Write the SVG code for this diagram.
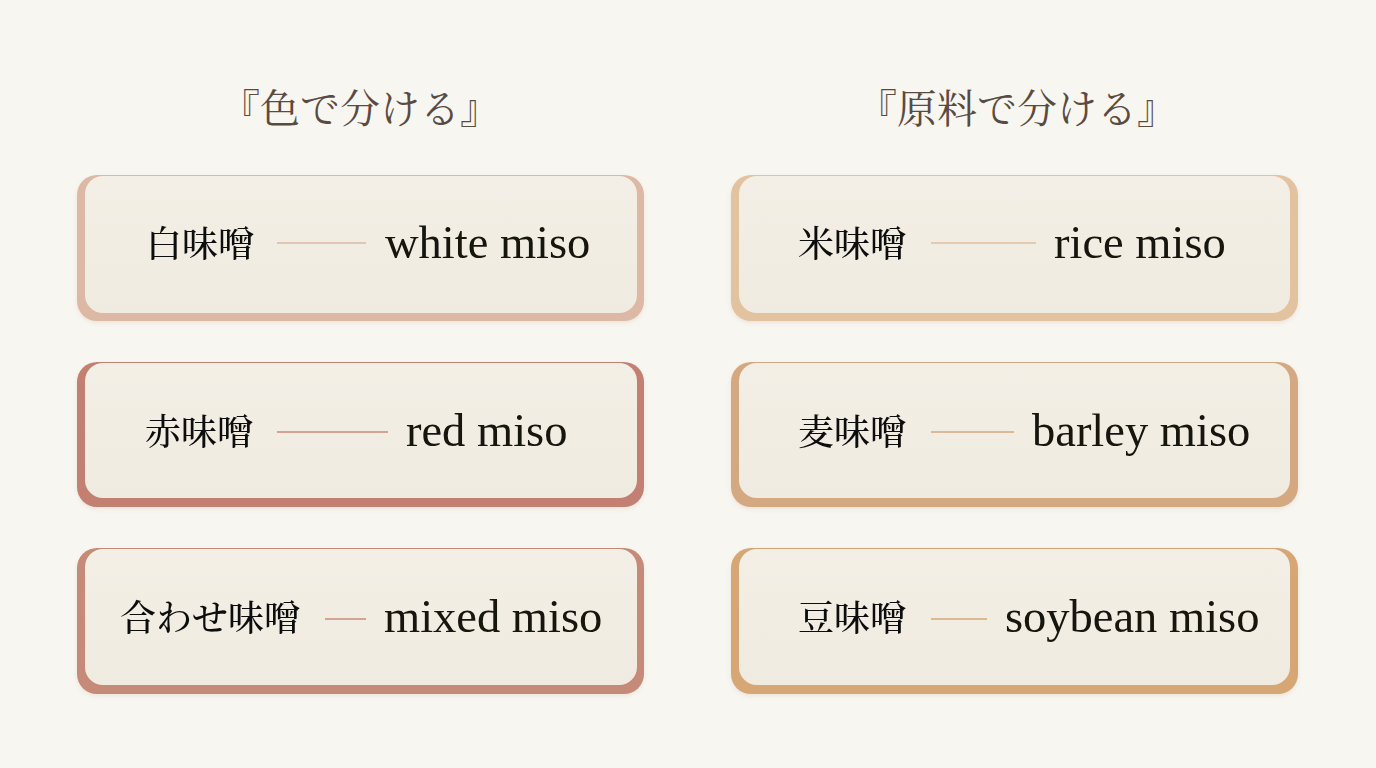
<svg xmlns="http://www.w3.org/2000/svg" width="1376" height="768" viewBox="0 0 1376 768">
<defs>
<linearGradient id="face" x1="0" y1="0" x2="0" y2="1">
<stop offset="0" stop-color="#f3efe6"/>
<stop offset="1" stop-color="#f0ebe0"/>
</linearGradient>
<filter id="sh" x="-5%" y="-10%" width="110%" height="125%">
<feDropShadow dx="0" dy="2" stdDeviation="2" flood-color="#8a6a50" flood-opacity="0.12"/>
</filter>
</defs>
<style>
.bg{fill:#f8f6f1}
.face{fill:url(#face)}
.title{font-family:"Liberation Serif","Noto Serif CJK JP","Noto Sans CJK JP",serif;font-size:40px;fill:#5a4b42;text-anchor:middle}
.jp{font-family:"Liberation Serif","Noto Serif CJK JP","Noto Sans CJK JP",serif;font-size:36px;fill:#111;font-weight:500}
.en{font-family:"Liberation Serif","Noto Sans CJK JP",serif;font-size:46.5px;fill:#141210}
.ln{stroke-width:1.5;fill:none}
</style>
<rect class="bg" x="0" y="0" width="1376" height="768"/>
<g id="title-color"><text class="title" x="360" y="123">『色で分ける』</text></g>
<g id="title-material"><text class="title" x="1017" y="123">『原料で分ける』</text></g>

<g id="card-white" filter="url(#sh)">
<rect x="77" y="175" width="567" height="146" rx="20" fill="#dcb8a5"/>
<rect class="face" x="85" y="176" width="552" height="137" rx="18"/>
<text class="jp" x="146" y="257">白味噌</text>
<text class="en" x="385" y="258">white miso</text>
</g>
<g id="card-red" filter="url(#sh)">
<rect x="77" y="362" width="567" height="145" rx="20" fill="#c27f72"/>
<rect class="face" x="85" y="363" width="552" height="135" rx="18"/>
<text class="jp" x="145" y="445">赤味噌</text>
<text class="en" x="406" y="446">red miso</text>
</g>
<g id="card-mixed" filter="url(#sh)">
<rect x="77" y="548" width="567" height="146" rx="20" fill="#c68a78"/>
<rect class="face" x="85" y="549" width="552" height="136" rx="18"/>
<text class="jp" x="120" y="631">合わせ味噌</text>
<text class="en" x="384" y="632">mixed miso</text>
</g>

<g id="card-rice" filter="url(#sh)">
<rect x="731" y="175" width="567" height="146" rx="20" fill="#e3c29f"/>
<rect class="face" x="739" y="176" width="551" height="137" rx="18"/>
<text class="jp" x="798" y="257">米味噌</text>
<text class="en" x="1054" y="258">rice miso</text>
</g>
<g id="card-barley" filter="url(#sh)">
<rect x="731" y="362" width="567" height="145" rx="20" fill="#d4a981"/>
<rect class="face" x="739" y="363" width="551" height="135" rx="18"/>
<text class="jp" x="798" y="445">麦味噌</text>
<text class="en" x="1032" y="446">barley miso</text>
</g>
<g id="card-soybean" filter="url(#sh)">
<rect x="731" y="548" width="567" height="146" rx="20" fill="#d6a674"/>
<rect class="face" x="739" y="549" width="551" height="136" rx="18"/>
<text class="jp" x="798" y="631">豆味噌</text>
<text class="en" x="1005" y="632">soybean miso</text>
</g>

<g id="connectors">
<line class="ln" x1="277" y1="243" x2="366" y2="243" stroke="#dcb8a5"/>
<line class="ln" x1="277" y1="432" x2="388" y2="432" stroke="#c98a7c"/>
<line class="ln" x1="325" y1="619" x2="366" y2="619" stroke="#c98a7c"/>
<line class="ln" x1="931" y1="243" x2="1036" y2="243" stroke="#dfbf9c"/>
<line class="ln" x1="931" y1="432" x2="1014" y2="432" stroke="#d4a981"/>
<line class="ln" x1="931" y1="619" x2="987" y2="619" stroke="#d6a674"/>
</g>
</svg>
